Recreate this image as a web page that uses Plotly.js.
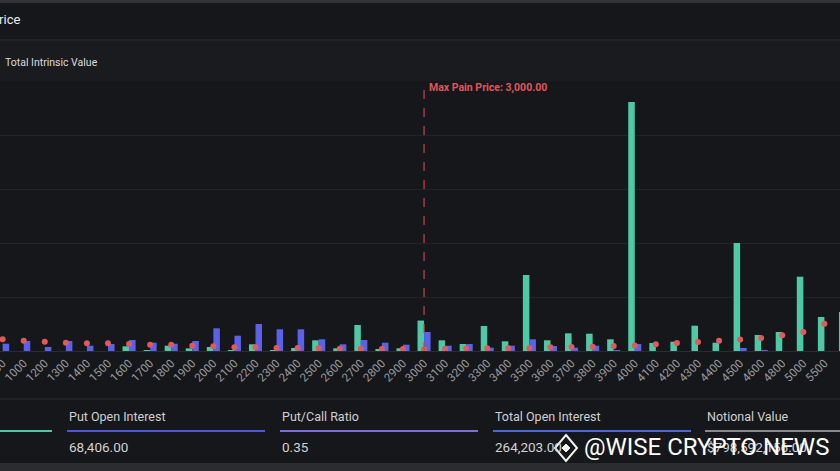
<!DOCTYPE html>
<html><head><meta charset="utf-8">
<script src="https://cdn.plot.ly/plotly-3.0.1.min.js"></script>
<style>html,body{margin:0;padding:0;background:#16171a;overflow:hidden}#chart{width:840px;height:471px;}</style>
</head><body><div id="chart"></div>
<script>
// ---- data ----
const strikes = ['900','1000','1200','1300','1400','1500','1600','1700','1800','1900','2000','2100','2200','2300','2400','2500','2600','2700','2800','2900','3000','3100','3200','3300','3400','3500','3600','3700','3800','3900','4000','4100','4200','4300','4400','4500','4600','4800','5000','5500','6000'];
const callOI = [0,0,0,0,0,0,437,93,493,251,372,93,623,93,279,994,251,2416,186,251,2830,994,651,2324,901,7063,994,1645,1608,1087,23142,744,864,2351,771,10037,1487,1766,6905,3160,3625];
const putOI = [678,929,372,929,493,651,1022,771,678,929,2110,1422,2509,2017,2017,1087,623,1022,771,586,1766,493,651,307,493,1087,465,307,493,93,651,0,0,0,0,279,93,0,0,0,0];
const intrinsicValue = [109,96,86,77,72,71,65,59,58,49,44,34,34,28,28,25,21,22,19,18,16,22,24,25,25,26,34,37,40,46,51,62,74,84,96,108,121,146,177,254,330];
const maxPainStrike = '3000';
const maxPainLabel = 'Max Pain Price: 3,000.00';
const statLabels = ['Call Open Interest','Put Open Interest','Put/Call Ratio','Total Open Interest','Notional Value'];
const statValues = ['195,797.00','68,406.00','0.35','264,203.00','$798,592,156.00'];

// ---- layout helpers (pixel -> paper) ----
const W = 840, H = 471, TOP = 82, BASE = 351;
const px = x => x / W;
const py = y => (BASE - y) / (BASE - TOP);
const statX = [-146, 67, 280, 493, 705];
const statColors = ['#4fc9a5', '#4d56d6', '#7c6fd8', '#4c67d8', '#8a8b8e'];

const traces = [
  {type:'bar', name:'Calls', x:strikes, y:callOI, marker:{color:'#4fc9a5'}, hoverinfo:'x+y'},
  {type:'bar', name:'Puts', x:strikes, y:putOI, marker:{color:'#5b61e8'}, hoverinfo:'x+y'},
  {type:'scatter', mode:'markers', name:'Total Intrinsic Value', x:strikes, y:intrinsicValue, yaxis:'y2',
   marker:{color:'#e05a5c', size:6}}
];

const shapes = [
  {type:'rect', xref:'paper', yref:'paper', x0:0, x1:1, y0:py(0), y1:py(3), fillcolor:'#333438', line:{width:0}, layer:'below'},
  {type:'rect', xref:'paper', yref:'paper', x0:0, x1:1, y0:py(41), y1:py(81), fillcolor:'#1a1b1e', line:{width:0}, layer:'below'},
  {type:'line', xref:'paper', yref:'paper', x0:0, x1:1, y0:py(40), y1:py(40), line:{color:'#2e2f33', width:1}},
  {type:'line', xref:'paper', yref:'paper', x0:0, x1:1, y0:py(399), y1:py(399), line:{color:'#2e2f33', width:1}},
  {type:'rect', xref:'paper', yref:'paper', x0:0, x1:1, y0:py(463), y1:py(471), fillcolor:'#2b2c30', line:{width:0}},
  {type:'line', xref:'x', yref:'paper', x0:strikes.indexOf(maxPainStrike), x1:strikes.indexOf(maxPainStrike), y0:0, y1:py(84),
   line:{color:'#c2474b', width:1.2, dash:'dash'}}
];
statX.forEach((x, i) => {
  shapes.push({type:'line', xref:'paper', yref:'paper', x0:px(x), x1:px(x+198), y0:py(431), y1:py(431),
    line:{color:statColors[i], width:2}});
});
// watermark logo (diamond)
const lx = 566, ly = 448;
shapes.push({type:'path', xref:'paper', yref:'paper',
  path:`M ${px(lx)} ${py(ly-13)} L ${px(lx+11)} ${py(ly)} L ${px(lx)} ${py(ly+13)} L ${px(lx-11)} ${py(ly)} Z`,
  line:{color:'#f2f2f2', width:2}});
shapes.push({type:'path', xref:'paper', yref:'paper',
  path:`M ${px(lx)} ${py(ly-4)} L ${px(lx+4)} ${py(ly)} L ${px(lx)} ${py(ly+4)} L ${px(lx-4)} ${py(ly)} Z`,
  fillcolor:'#f2f2f2', line:{color:'#f2f2f2', width:1}});

const annotations = [
  {text:'Max Pain Price', xref:'paper', yref:'paper', x:px(22), y:py(20), xanchor:'right', yanchor:'middle', showarrow:false,
   font:{family:'Roboto', size:13, color:'#ececec'}},
  {text:'Total Intrinsic Value', xref:'paper', yref:'paper', x:px(3), y:py(62), xanchor:'left', yanchor:'middle', showarrow:false,
   font:{family:'Roboto', size:10.5, color:'#dcdcdc'}},
  {text:'<b>'+maxPainLabel+'</b>', xref:'x', yref:'paper', x:strikes.indexOf(maxPainStrike), xshift:3, y:py(88), xanchor:'left', yanchor:'middle', showarrow:false,
   font:{family:'Roboto', size:10.5, color:'#e0555a'}}
];
statX.forEach((x, i) => {
  annotations.push({text:statLabels[i], xref:'paper', yref:'paper', x:px(x), y:py(416), xanchor:'left', yanchor:'middle', showarrow:false,
    font:{family:'Roboto', size:12.5, color:'#cfcfd1'}});
  annotations.push({text:statValues[i], xref:'paper', yref:'paper', x:px(x), y:py(447), xanchor:'left', yanchor:'middle', showarrow:false,
    font:{family:'Roboto', size:13.5, color:'#d2d2d4'}});
});
annotations.push({text:'@WISE CRYPTO NEWS', xref:'paper', yref:'paper', x:px(582), y:py(447), xanchor:'left', yanchor:'middle', showarrow:false,
  font:{family:'Roboto', size:24, color:'#ffffff'}});

const layout = {
  width: W, height: H,
  margin:{l:0, r:0, t:TOP, b:H-BASE, pad:0},
  paper_bgcolor:'#16171a', plot_bgcolor:'#16171a',
  showlegend:false,
  barmode:'group', bargap:0.38, bargroupgap:0,
  font:{family:'Roboto', color:'#9a9b9e'},
  xaxis:{type:'category', categoryorder:'array', categoryarray:strikes, range:[-0.125, 39.74],
    tickangle:-45, tickfont:{family:'Roboto', size:11.5, color:'#9a9b9e'}, ticks:'', showgrid:false,
    showline:true, linecolor:'#2a2c30', automargin:false, fixedrange:true},
  yaxis:{range:[0, 25000], dtick:5000, showticklabels:false, gridcolor:'#222428', zeroline:false, automargin:false, fixedrange:true},
  yaxis2:{overlaying:'y', side:'right', range:[0, 2500], showticklabels:false, showgrid:false, zeroline:false, automargin:false, fixedrange:true},
  shapes: shapes,
  annotations: annotations
};

Plotly.newPlot('chart', traces, layout, {displayModeBar:false, staticPlot:true});
</script>
</body></html>
